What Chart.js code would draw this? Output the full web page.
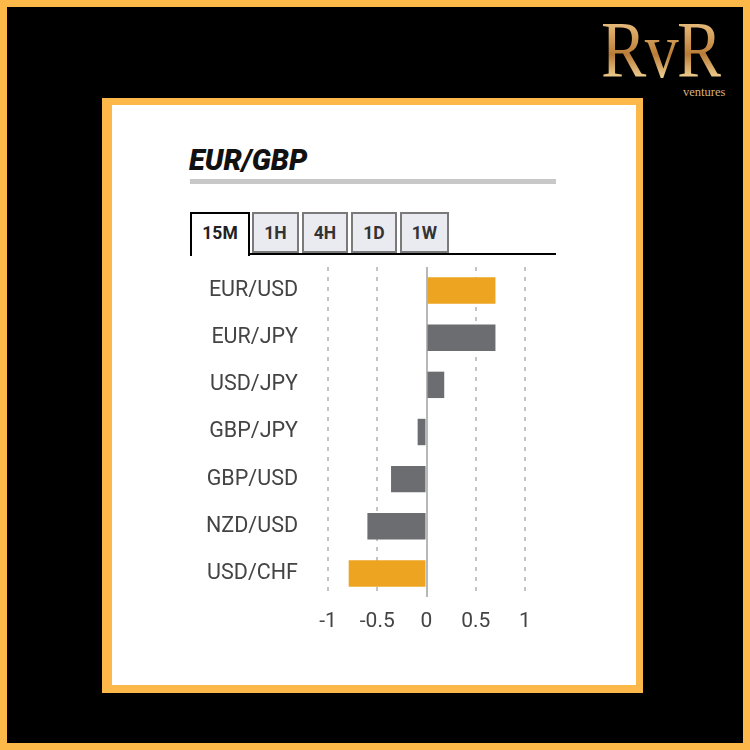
<!DOCTYPE html>
<html>
<head>
<meta charset="utf-8">
<script src="https://cdn.jsdelivr.net/npm/chart.js@4"></script>
<style>
  html, body { margin:0; padding:0; width:750px; height:750px; overflow:hidden; background:#000; }
  #frame { position:absolute; left:0; top:0; width:750px; height:750px; box-sizing:border-box; border:7px solid #FDB84A; background:#000; }
  #panel { position:absolute; left:102px; top:98px; width:541px; height:595px; box-sizing:border-box;
           border-style:solid; border-color:#FDB84A; border-width:7px 7px 8px 10px; background:#fff; }
  #title { position:absolute; left:189px; top:143px; font-family:Roboto, sans-serif; font-weight:900; font-style:italic;
           font-size:29px; color:#111; line-height:34px; letter-spacing:0px; }
  #rule { position:absolute; left:190px; top:179px; width:366px; height:5px; background:#c8c8c8; }
  .tab { position:absolute; top:212px; height:41px; box-sizing:border-box; font-family:Roboto, sans-serif; font-weight:700;
         font-size:17.5px; color:#333; text-align:center; line-height:38px; border:2px solid #7a7a7a; background:#eaeaf1; }
  #t15 { left:190px; width:60px; height:44px; border:2px solid #000; border-bottom:none; background:#fff; color:#222; }
  #tabline { position:absolute; left:249px; top:253px; width:307px; height:2px; background:#000; }
  #chartwrap { position:absolute; left:180px; top:258px; width:376px; height:385px; }
  #chartwrap canvas { display:block; }
  #logo { position:absolute; left:601px; top:4px; font-family:"Liberation Serif", "DejaVu Serif", serif; font-size:80px;
          line-height:92px; letter-spacing:-2px; white-space:nowrap;
          background:linear-gradient(180deg,#f7dfae 0%,#dcaa66 30%,#b97c38 55%,#efcf90 80%,#a0652c 100%);
          -webkit-background-clip:text; background-clip:text; color:transparent; transform:scaleX(0.85); transform-origin:left top; }
  #vent { position:absolute; left:683px; top:85px; font-family:"Liberation Serif", serif; font-size:12.5px; color:#d6b27c; }
</style>
</head>
<body>
<div id="frame"></div>
<div id="logo">RvR</div>
<div id="vent">ventures</div>
<div id="panel"></div>
<div id="title">EUR/GBP</div>
<div id="rule"></div>
<div class="tab" id="t15">15M</div>
<div class="tab" style="left:252px;width:47px;">1H</div>
<div class="tab" style="left:302px;width:46px;">4H</div>
<div class="tab" style="left:351px;width:46px;">1D</div>
<div class="tab" style="left:400px;width:49px;">1W</div>
<div id="tabline"></div>
<div id="chartwrap"><canvas id="c" width="376" height="385"></canvas></div>
<script>
const pairs = ["EUR/USD", "EUR/JPY", "USD/JPY", "GBP/JPY", "GBP/USD", "NZD/USD", "USD/CHF"];
const changes = [0.70, 0.70, 0.18, -0.09, -0.36, -0.60, -0.79];
const highlighted = ["EUR/USD", "USD/CHF"];
const xTicks = [-1, -0.5, 0, 0.5, 1];

const ORANGE = "#EDA521", GRAY = "#6C6D71";

new Chart(document.getElementById("c"), {
  type: "bar",
  data: {
    labels: pairs,
    datasets: [{
      data: changes,
      backgroundColor: pairs.map(p => highlighted.includes(p) ? ORANGE : GRAY),
      borderWidth: 0,
      barPercentage: 0.56,
      categoryPercentage: 1.0
    }]
  },
  options: {
    indexAxis: "y",
    responsive: false,
    animation: false,
    events: [],
    layout: { autoPadding: false, padding: { top: 9, right: 31, left: 0, bottom: 0 } },
    plugins: { legend: { display: false }, tooltip: { enabled: false } },
    scales: {
      x: {
        min: -1, max: 1,
        afterBuildTicks: s => { s.ticks = xTicks.map(v => ({ value: v })); },
        afterFit: s => { s.height = 46; s.paddingLeft = 0; s.paddingRight = 0; },
        grid: {
          drawTicks: false,
          color: c => (c.tick && c.tick.value === 0) ? "#b8b8b8" : "#c4c4c4",
          lineWidth: 2
        },
        border: { display: false, dash: c => (c.tick && c.tick.value === 0) ? [] : [4, 6] },
        ticks: {
          padding: 12,
          color: "#444",
          font: { family: "Roboto", size: 21 },
          callback: v => String(v)
        }
      },
      y: {
        afterFit: s => { s.width = 148; s.paddingTop = 0; s.paddingBottom = 0; },
        grid: { display: false, drawTicks: false },
        border: { display: false },
        ticks: {
          padding: 30,
          color: "#444",
          font: { family: "Roboto", size: 21.5 }
        }
      }
    }
  }
});
</script>
</body>
</html>
